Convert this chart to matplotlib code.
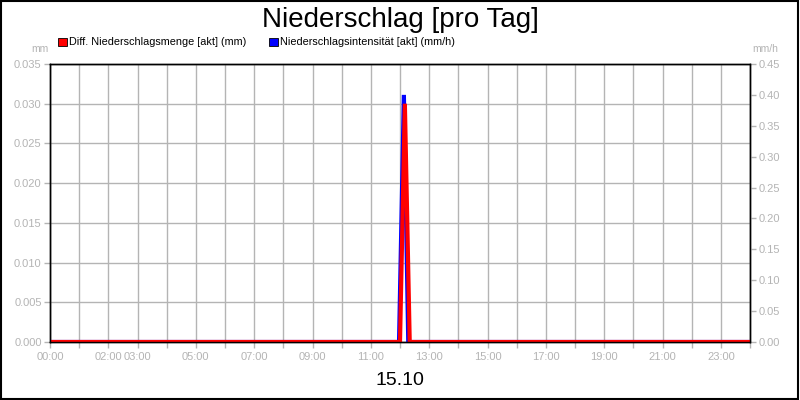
import matplotlib
matplotlib.use("Agg")
import matplotlib.pyplot as plt
import numpy as np
from matplotlib.patches import Rectangle

plt.rcParams['font.family'] = ['Liberation Sans', 'DejaVu Sans']

# minutes since 00:00
menge_t = [0, 720, 730, 740, 1440]
menge_mm = [0.0, 0.0, 0.030, 0.0, 0.0]
intens_t = [0, 718, 728, 737, 1440]
intens_mmh = [0.0, 0.0, 0.40, 0.0, 0.0]

hour_labels = {0: "00:00", 2: "02:00", 3: "03:00", 5: "05:00", 7: "07:00", 9: "09:00",
               11: "11:00", 13: "13:00", 15: "15:00", 17: "17:00", 19: "19:00",
               21: "21:00", 23: "23:00"}
left_ticks = np.arange(0, 0.0351, 0.005)
right_ticks = np.arange(0, 0.451, 0.05)

grey = "#b4b4b4"

fig = plt.figure(figsize=(8, 4), dpi=100)
fig.patches.append(Rectangle((0.001, 0.002), 0.997, 0.995, transform=fig.transFigure,
                             fill=False, edgecolor="black", linewidth=1.5))

ax = fig.add_axes([0.0625, 0.145, 0.875, 0.695])
ax2 = ax.twinx()

ax.set_xlim(0, 1440)
ax.set_ylim(0, 0.035)
ax2.set_ylim(0, 0.45)

ax.set_xticks(np.arange(0, 25) * 60)
ax.set_xticklabels([hour_labels.get(h, "") for h in range(25)])
ax.set_yticks(left_ticks)
ax.set_yticklabels(["%.3f" % v for v in left_ticks])
ax2.set_yticks(right_ticks)
ax2.set_yticklabels(["%.2f" % v for v in right_ticks])

ax.grid(True, color=grey, linewidth=1)
ax.set_axisbelow(True)
for a in (ax, ax2):
    a.tick_params(colors=grey, labelsize=8, length=4, width=1)
    for s in a.spines.values():
        s.set_color("black")
        s.set_linewidth(1)
ax.tick_params(axis="y", pad=2)
ax2.tick_params(axis="y", pad=2)

ax2.plot(intens_t, intens_mmh, color="#0000ff", linewidth=3, solid_joinstyle="miter")
ax2.plot(menge_t, [v / 0.035 * 0.45 for v in menge_mm], color="#ff0000",
         linewidth=3, solid_joinstyle="miter")

fig.text(0.5, 0.95, "Niederschlag [pro Tag]", ha="center", va="center", fontsize=20)
fig.text(0.5, 0.048, "15.10", ha="center", va="center", fontsize=14)
fig.text(0.061, 0.877, "mm", ha="right", va="center", fontsize=7.5, color=grey)
fig.text(0.94, 0.877, "mm/h", ha="left", va="center", fontsize=7.5, color=grey)

fig.patches.append(Rectangle((0.0725, 0.884), 0.011, 0.022, transform=fig.transFigure,
                             facecolor="#ff0000", edgecolor="black", linewidth=0.6))
fig.text(0.086, 0.894, "Diff. Niederschlagsmenge [akt] (mm)", ha="left", va="center", fontsize=7.8)
fig.patches.append(Rectangle((0.336, 0.884), 0.011, 0.022, transform=fig.transFigure,
                             facecolor="#0000ff", edgecolor="black", linewidth=0.6))
fig.text(0.35, 0.894, "Niederschlagsintensität [akt] (mm/h)", ha="left", va="center", fontsize=7.8)

fig.savefig("out.png", dpi=100)
